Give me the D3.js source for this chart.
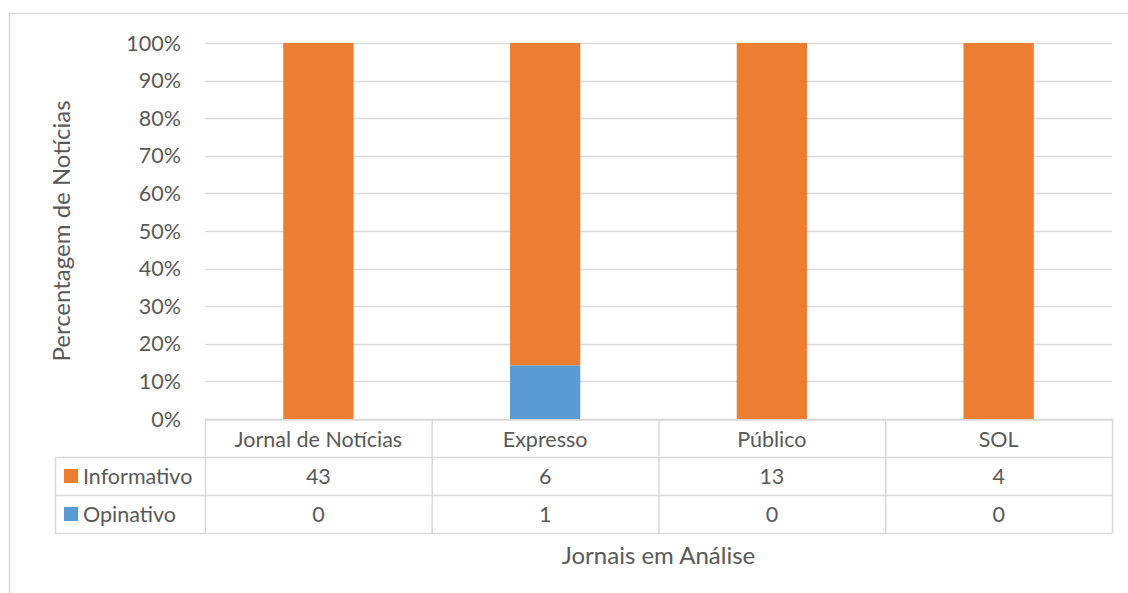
<!DOCTYPE html>
<html>
<head>
<meta charset="utf-8">
<script src="https://cdn.jsdelivr.net/npm/d3@7"></script>
<style>
  html, body { margin: 0; padding: 0; background: #fff; }
  svg { display: block; }
  text { font-family: Lato, "Open Sans", sans-serif; fill: #595959; }
</style>
</head>
<body>
<svg id="chart" width="1128" height="593"></svg>
<script>
// Newspapers analysed and news counts per type
const categories = ["Jornal de Notícias", "Expresso", "Público", "SOL"];
const seriesNames = ["Informativo", "Opinativo"];
const informativo = [43, 6, 13, 4];
const opinativo = [0, 1, 0, 0];
const seriesColors = ["#ED7D31", "#5B9BD5"];
const yTicks = [0, 0.1, 0.2, 0.3, 0.4, 0.5, 0.6, 0.7, 0.8, 0.9, 1.0];

const svg = d3.select("#chart");
const W = 1128, H = 593;
const labelSize = 21.5;
const titleSize = 24;

// outer chart frame
svg.append("rect")
  .attr("x", 9.5).attr("y", 13.5)
  .attr("width", W + 20).attr("height", H + 20)
  .attr("fill", "none").attr("stroke", "#D9D9D9").attr("stroke-width", 1.5);

const plot = { left: 205, right: 1112, top: 43, bottom: 419 };
const rowH = 38;
const tableLeft = 55;

const x = d3.scaleBand().domain(categories).range([plot.left, plot.right]).paddingInner(0.69).paddingOuter(0.345);
const xCell = d3.scaleBand().domain(categories).range([plot.left, plot.right]);
const y = d3.scaleLinear().domain([0, 1]).range([plot.bottom, plot.top]);

// horizontal gridlines
svg.append("g").selectAll("line").data(yTicks).join("line")
  .attr("x1", plot.left).attr("x2", plot.right)
  .attr("y1", d => Math.round(y(d)) + 0.5).attr("y2", d => Math.round(y(d)) + 0.5)
  .attr("stroke", "#D9D9D9").attr("stroke-width", 1.5);

// y tick labels
svg.append("g").selectAll("text").data(yTicks).join("text")
  .attr("x", 181).attr("y", d => y(d))
  .attr("dy", "0.35em").attr("text-anchor", "end")
  .attr("font-size", labelSize)
  .text(d => d3.format(".0%")(d));

// stacked 100% columns
const rows = categories.map((c, i) => ({ cat: c, Informativo: informativo[i], Opinativo: opinativo[i] }));
const stacked = d3.stack().keys(["Opinativo", "Informativo"]).offset(d3.stackOffsetExpand)(rows);
const colorOf = { Informativo: seriesColors[0], Opinativo: seriesColors[1] };

svg.append("g").selectAll("g").data(stacked).join("g")
  .attr("fill", s => colorOf[s.key])
  .selectAll("rect").data(s => s.filter(d => d[1] - d[0] > 0)).join("rect")
  .attr("x", d => x(d.data.cat))
  .attr("width", x.bandwidth())
  .attr("y", d => y(d[1]))
  .attr("height", d => y(d[0]) - y(d[1]));

// data table grid
const tg = svg.append("g").attr("stroke", "#D9D9D9").attr("stroke-width", 1.5).attr("fill", "none");
const rowsY = [plot.bottom, plot.bottom + rowH, plot.bottom + 2 * rowH, plot.bottom + 3 * rowH];
// header row top line is the axis baseline; other rows span the legend column too
tg.append("line").attr("x1", plot.left).attr("x2", plot.right).attr("y1", rowsY[0] + 1).attr("y2", rowsY[0] + 1);
[1, 2, 3].forEach(k => {
  tg.append("line").attr("x1", tableLeft).attr("x2", plot.right).attr("y1", rowsY[k] + 0.5).attr("y2", rowsY[k] + 0.5);
});
tg.append("line").attr("x1", tableLeft + 0.5).attr("x2", tableLeft + 0.5).attr("y1", rowsY[1]).attr("y2", rowsY[3]);
categories.forEach(c => {
  tg.append("line").attr("x1", xCell(c) + 0.5).attr("x2", xCell(c) + 0.5).attr("y1", rowsY[0]).attr("y2", rowsY[3]);
});
tg.append("line").attr("x1", plot.right + 0.5).attr("x2", plot.right + 0.5).attr("y1", rowsY[0]).attr("y2", rowsY[3]);

// category header
svg.append("g").selectAll("text").data(categories).join("text")
  .attr("x", c => xCell(c) + xCell.bandwidth() / 2)
  .attr("y", rowsY[0] + rowH / 2 + 1).attr("dy", "0.35em")
  .attr("text-anchor", "middle").attr("font-size", labelSize)
  .text(c => c);

// series rows: legend key, name, values
const seriesVals = [informativo, opinativo];
seriesNames.forEach((name, si) => {
  const cy = rowsY[si + 1] + rowH / 2;
  svg.append("rect").attr("x", 64).attr("y", cy - 7).attr("width", 14).attr("height", 14).attr("fill", seriesColors[si]);
  svg.append("text").attr("x", 83).attr("y", cy).attr("dy", "0.35em").attr("font-size", labelSize).text(name);
  svg.append("g").selectAll("text").data(seriesVals[si]).join("text")
    .attr("x", (v, i) => xCell(categories[i]) + xCell.bandwidth() / 2)
    .attr("y", cy).attr("dy", "0.35em").attr("text-anchor", "middle").attr("font-size", labelSize)
    .text(v => v);
});

// axis titles
svg.append("text")
  .attr("transform", `translate(62, ${(plot.top + plot.bottom) / 2}) rotate(-90)`)
  .attr("dy", "0.35em").attr("text-anchor", "middle").attr("font-size", titleSize)
  .text("Percentagem de Notícias");

svg.append("text")
  .attr("x", (plot.left + plot.right) / 2).attr("y", 556)
  .attr("dy", "0.35em").attr("text-anchor", "middle").attr("font-size", titleSize)
  .text("Jornais em Análise");
</script>
</body>
</html>
